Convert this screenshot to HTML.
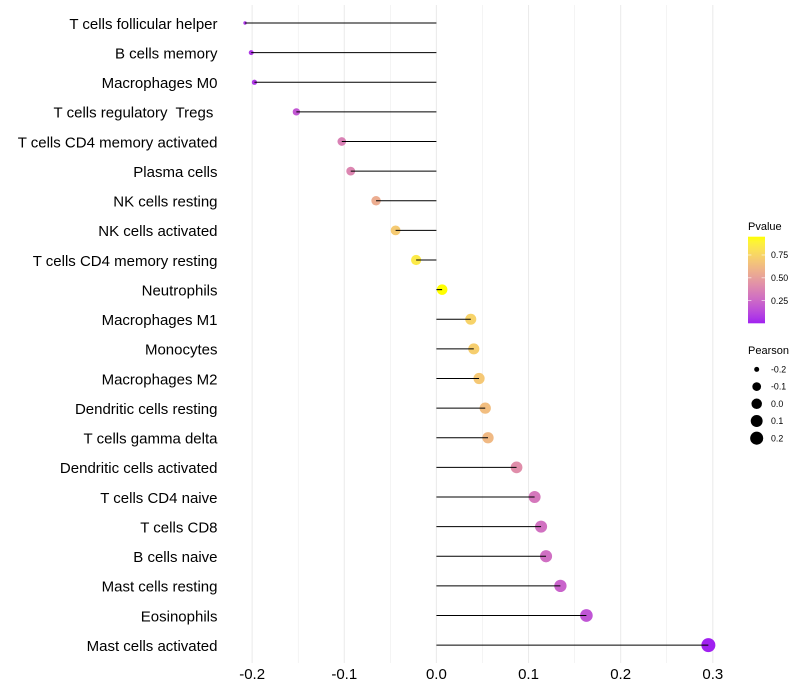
<!DOCTYPE html>
<html>
<head>
<meta charset="utf-8">
<title>Pearson lollipop chart</title>
<style>
html,body{margin:0;padding:0;background:#fff;}
svg{display:block;font-family:"Liberation Sans",Arial,sans-serif;}
text{white-space:pre;}
</style>
</head>
<body>
<svg id="chart" width="800" height="700" viewBox="0 0 800 700" xmlns="http://www.w3.org/2000/svg">
  <defs>
    <linearGradient id="pvalue-gradient" x1="0" y1="1" x2="0" y2="0"></linearGradient>
  </defs>
  <g id="grid"></g>
  <g id="stems"></g>
  <g id="ylabels"></g>
  <g id="xlabels"></g>
  <g id="legend-p">
    <text x="748" y="230" font-size="11" fill="#000">Pvalue</text>
    <rect id="colorbar" x="748" y="236.7" width="17" height="86.6" fill="url(#pvalue-gradient)"></rect>
  </g>
  <g id="legend-s">
    <text x="748" y="354" font-size="11" fill="#000">Pearson</text>
  </g>
</svg>
<script>
// Chart data
const categories = ["T cells follicular helper","B cells memory","Macrophages M0","T cells regulatory  Tregs ","T cells CD4 memory activated","Plasma cells","NK cells resting","NK cells activated","T cells CD4 memory resting","Neutrophils","Macrophages M1","Monocytes","Macrophages M2","Dendritic cells resting","T cells gamma delta","Dendritic cells activated","T cells CD4 naive","T cells CD8","B cells naive","Mast cells resting","Eosinophils","Mast cells activated"];
const pearsonValues = [-0.2077,-0.201,-0.1975,-0.152,-0.1027,-0.093,-0.0655,-0.0443,-0.022,0.0062,0.0373,0.0406,0.0463,0.053,0.056,0.087,0.1066,0.1136,0.119,0.1346,0.1628,0.2952];
const pValues = [0.06,0.07,0.07,0.18,0.36,0.38,0.56,0.7,0.85,0.95,0.74,0.72,0.69,0.64,0.62,0.42,0.32,0.29,0.28,0.23,0.17,0.003];
const xTicks = [-0.2,-0.1,0,0.1,0.2,0.3];
const xMinorTicks = [-0.15,-0.05,0.05,0.15,0.25];
const xTickLabels = ["-0.2","-0.1","0.0","0.1","0.2","0.3"];
const pLegendTicks = [0.25,0.5,0.75];
const pLegendLabels = ["0.25","0.50","0.75"];
const sizeLegendValues = [-0.2,-0.1,0,0.1,0.2];
const sizeLegendLabels = ["-0.2","-0.1","0.0","0.1","0.2"];

// Scales
const NS = "http://www.w3.org/2000/svg";
function xScale(v){ return 436.4 + 921.3 * v; }
function yScale(i){ return 23.0 + 29.625 * i; }
const pearsonMin = Math.min.apply(null, pearsonValues);
const pearsonMax = Math.max.apply(null, pearsonValues);
function sizeScale(v){
  const t = Math.max(0, (v - pearsonMin) / (pearsonMax - pearsonMin));
  return 1.7 + 5.3 * Math.pow(t, 0.45);
}
function pLegendY(p){ return 323.3 - (p - 0.003) / (0.95 - 0.003) * 86.6; }

// Lab colour interpolation (purple to yellow)
function toLab(c){
  const l = c.map(function(u){ u/=255; return u>0.04045?Math.pow((u+0.055)/1.055,2.4):u/12.92; });
  const X=(0.4124564*l[0]+0.3575761*l[1]+0.1804375*l[2])/0.95047;
  const Y=0.2126729*l[0]+0.7151522*l[1]+0.072175*l[2];
  const Z=(0.0193339*l[0]+0.119192*l[1]+0.9503041*l[2])/1.08883;
  const f=function(t){ return t>0.008856?Math.cbrt(t):7.787*t+16/116; };
  return [116*f(Y)-16,500*(f(X)-f(Y)),200*(f(Y)-f(Z))];
}
function fromLab(L){
  const fy=(L[0]+16)/116, fx=fy+L[1]/500, fz=fy-L[2]/200;
  const g=function(t){ return t>0.2069?t*t*t:(t-16/116)/7.787; };
  const X=g(fx)*0.95047, Y=g(fy), Z=g(fz)*1.08883;
  const r=[3.2404542*X-1.5371385*Y-0.4985314*Z,-0.969266*X+1.8760108*Y+0.041556*Z,0.0556434*X-0.2040259*Y+1.0572252*Z];
  return "rgb("+r.map(function(u){
    u=u>0.0031308?1.055*Math.pow(u,1/2.4)-0.055:12.92*u;
    return Math.round(Math.min(1,Math.max(0,u))*255);
  }).join(",")+")";
}
const labLow = toLab([160,32,240]);
const labHigh = toLab([255,255,0]);
function colorScale(p){
  const t = (p - 0.003) / (0.95 - 0.003);
  return fromLab(labLow.map(function(a,k){ return a + (labHigh[k]-a)*t; }));
}
function make(parent, tag, attrs){
  const el = document.createElementNS(NS, tag);
  Object.keys(attrs).forEach(function(k){ el.setAttribute(k, attrs[k]); });
  parent.appendChild(el);
  return el;
}

// Grid
const grid = document.getElementById("grid");
xMinorTicks.forEach(function(v){
  const ln = make(grid, "line", {x1:xScale(v),x2:xScale(v),y1:5,y2:663,stroke:"#ebebeb","stroke-width":0.55});
  
  
});
xTicks.forEach(function(v){
  const ln = make(grid, "line", {x1:xScale(v),x2:xScale(v),y1:5,y2:663,stroke:"#ebebeb","stroke-width":1.07});
  
  
});

// Marks
const stems = document.getElementById("stems");
pearsonValues.forEach(function(v,i){
  const dot = make(stems, "circle", {cx:xScale(v),cy:yScale(i),r:sizeScale(v),fill:colorScale(pValues[i])});
  
  
});
pearsonValues.forEach(function(v,i){
  const stem = make(stems, "line", {x1:xScale(0),x2:xScale(v),y1:yScale(i),y2:yScale(i),stroke:"#000","stroke-width":1.07});
  
  
});

// Y labels
const ylabels = document.getElementById("ylabels");
categories.forEach(function(c,i){
  const t = make(ylabels, "text", {x:217.5,y:yScale(i)+5.8,"text-anchor":"end","font-size":15,fill:"#000"});
  t.textContent = c;
  
  
});

// X labels
const xlabels = document.getElementById("xlabels");
xTicks.forEach(function(v,i){
  const t = make(xlabels, "text", {x:xScale(v),y:679,"text-anchor":"middle","font-size":15,fill:"#000"});
  t.textContent = xTickLabels[i];
  
  
});

// Colour legend
const gradient = document.getElementById("pvalue-gradient");
for (let k = 0; k <= 20; k++){
  const frac = k / 20;
  make(gradient, "stop", {offset:frac,"stop-color":colorScale(0.003 + frac * (0.95 - 0.003))});
}
const legendP = document.getElementById("legend-p");
pLegendTicks.forEach(function(p,i){
  const y = pLegendY(p);
  const a = make(legendP, "line", {x1:748,x2:751.4,y1:y,y2:y,stroke:"#fff","stroke-width":0.6});
  
  
  const b = make(legendP, "line", {x1:761.6,x2:765,y1:y,y2:y,stroke:"#fff","stroke-width":0.6});
  
  
  const t = make(legendP, "text", {x:771,y:y+3.1,"font-size":8.8,fill:"#000"});
  t.textContent = pLegendLabels[i];
  
  
});

// Size legend
const legendS = document.getElementById("legend-s");
sizeLegendValues.forEach(function(v,i){
  const y = 369.4 + 17.2 * i;
  const c = make(legendS, "circle", {cx:756.7,cy:y,r:sizeScale(v),fill:"#000"});
  
  
  const t = make(legendS, "text", {x:771,y:y+3.1,"font-size":8.8,fill:"#000"});
  t.textContent = sizeLegendLabels[i];
  
  
});
</script>
</body>
</html>
